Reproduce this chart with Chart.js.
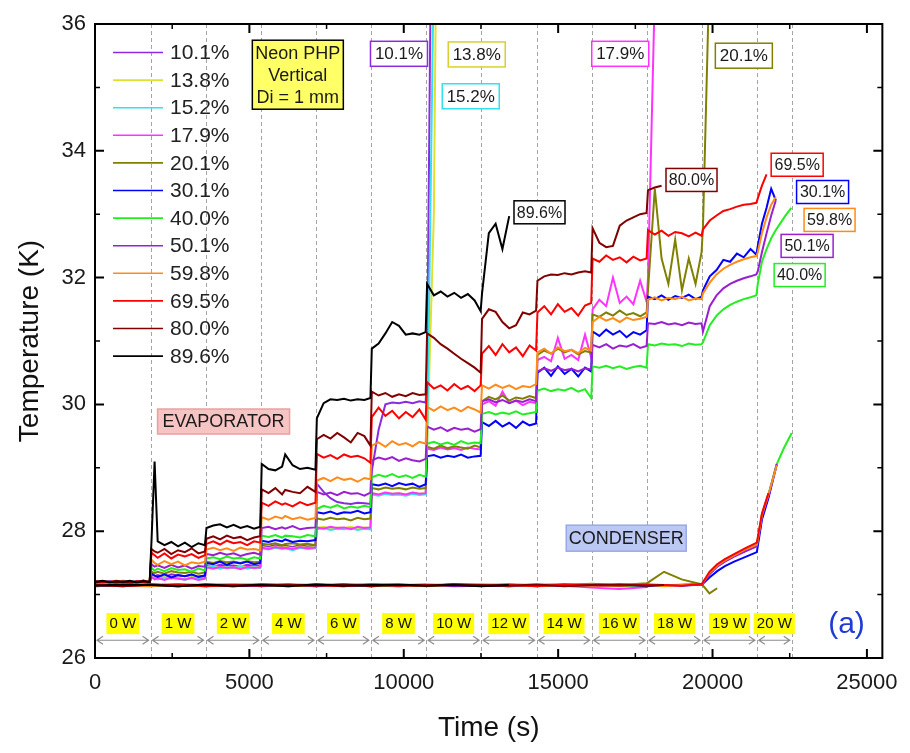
<!DOCTYPE html>
<html>
<head>
<meta charset="utf-8">
<title>Neon PHP - evaporator / condenser temperatures</title>
<script src="https://cdn.jsdelivr.net/npm/chart.js@4.4.0/dist/chart.umd.min.js"></script>
<style>
  html, body { margin: 0; padding: 0; background: #fff; }
  #php-chart-container { width: 910px; height: 753px; }
</style>
</head>
<body>
<div id="php-chart-container"><canvas id="php-chart" width="910" height="753"></canvas></div>
<script>
const _ = null; // no reading (run stopped or line off scale)

// fill ratios in legend order and their colours
const fillRatios = ['10.1%', '13.8%', '15.2%', '17.9%', '20.1%', '30.1%', '40.0%', '50.1%', '59.8%', '69.5%', '80.0%', '89.6%'];
const seriesColors = ['#8a2be2', '#e0e030', '#33e0ee', '#ff33ff', '#808000', '#0000ff', '#22ee22', '#9a1fd0', '#ff8c1a', '#ff0000', '#800000', '#000000'];

// heat load steps (s) and their labels
const stepBounds = [0, 1800, 3580, 5370, 7155, 8935, 10725, 12505, 14300, 16085, 17880, 19660, 21435, 22565];
const powerLabels = ['0 W', '1 W', '2 W', '4 W', '6 W', '8 W', '10 W', '12 W', '14 W', '16 W', '18 W', '19 W', '20 W'];

const xTickValues = [0, 5000, 10000, 15000, 20000, 25000];
const yTickValues = [26, 28, 30, 32, 34, 36];

// evaporator readings, one row per heat load step
const timeEvap = [
  0, 250, 470, 690, 910, 1130, 1350, 1570, 1770,
  1830, 1930, 2030, 2250, 2470, 2690, 2910, 3130, 3350, 3560,
  3610, 3830, 4050, 4270, 4490, 4710, 4930, 5150, 5350,
  5400, 5620, 5840, 6060, 6160, 6400, 6640, 6880, 7140,
  7185, 7405, 7625, 7845, 8065, 8285, 8505, 8725, 8920,
  8965, 9185, 9405, 9625, 9845, 10065, 10285, 10505, 10710,
  10755, 10975, 11195, 11415, 11635, 11855, 12075, 12295, 12490,
  12535, 12755, 12975, 13195, 13415, 13635, 13855, 14075, 14285,
  14330, 14550, 14770, 14990, 15210, 15430, 15650, 15870, 16070,
  16115, 16335, 16555, 16775, 16995, 17215, 17435, 17655, 17865,
  17910, 18130, 18350, 18570, 18790, 19010, 19230, 19450, 19645,
  19690, 19910, 20130, 20350, 20570, 20790, 21010, 21230, 21420,
  21465, 21600, 21750, 21900, 22050, 22200, 22350, 22550
];

const evap101 = [
  27.20, 27.21, 27.19, 27.20, 27.22, 27.20, 27.19, 27.21, 27.20,
  27.31, 27.29, 27.31, 27.28, 27.32, 27.30, 27.29, 27.31, 27.28, 27.30,
  27.46, 27.44, 27.47, 27.45, 27.46, 27.44, 27.47, 27.45, 27.46,
  27.77, 27.75, 27.78, 27.76, 27.77, 27.75, 27.78, 27.76, 27.77,
  28.75, 28.62, 28.52, 28.46, 28.44, 28.43, 28.45, 28.44, 28.43,
  28.95, 29.60, 30.00, 30.03, 30.02, 30.04, 30.02, 30.05, 30.03,
  30.60, 42.00, _, _, _, _, _, _, _,
  _, _, _, _, _, _, _, _, _,
  _, _, _, _, _, _, _, _, _,
  _, _, _, _, _, _, _, _, _,
  _, _, _, _, _, _, _, _, _,
  _, _, _, _, _, _, _, _, _,
  _, _, _, _, _, _, _, _
];
const evap138 = [
  27.21, 27.20, 27.19, 27.21, 27.20, 27.19, 27.21, 27.20, 27.19,
  27.29, 27.27, 27.25, 27.28, 27.26, 27.27, 27.24, 27.28, 27.26, 27.27,
  27.44, 27.45, 27.43, 27.44, 27.42, 27.45, 27.43, 27.44, 27.43,
  27.75, 27.73, 27.76, 27.74, 27.75, 27.73, 27.76, 27.74, 27.75,
  28.05, 28.07, 28.04, 28.06, 28.05, 28.07, 28.04, 28.06, 28.05,
  28.60, 28.58, 28.61, 28.59, 28.60, 28.58, 28.61, 28.59, 28.60,
  29.30, 33.00, 45.00, _, _, _, _, _, _,
  _, _, _, _, _, _, _, _, _,
  _, _, _, _, _, _, _, _, _,
  _, _, _, _, _, _, _, _, _,
  _, _, _, _, _, _, _, _, _,
  _, _, _, _, _, _, _, _, _,
  _, _, _, _, _, _, _, _
];
const evap152 = [
  27.19, 27.21, 27.20, 27.19, 27.21, 27.20, 27.19, 27.21, 27.20,
  27.27, 27.26, 27.24, 27.27, 27.25, 27.26, 27.23, 27.27, 27.25, 27.26,
  27.42, 27.44, 27.41, 27.43, 27.42, 27.44, 27.41, 27.43, 27.42,
  27.73, 27.71, 27.74, 27.72, 27.73, 27.70, 27.74, 27.72, 27.73,
  28.03, 28.05, 28.02, 28.04, 28.03, 28.05, 28.02, 28.04, 28.03,
  28.58, 28.56, 28.59, 28.57, 28.58, 28.56, 28.59, 28.57, 28.58,
  29.30, 37.00, _, _, _, _, _, _, _,
  _, _, _, _, _, _, _, _, _,
  _, _, _, _, _, _, _, _, _,
  _, _, _, _, _, _, _, _, _,
  _, _, _, _, _, _, _, _, _,
  _, _, _, _, _, _, _, _, _,
  _, _, _, _, _, _, _, _
];
const evap179 = [
  27.20, 27.19, 27.21, 27.20, 27.19, 27.21, 27.20, 27.22, 27.20,
  27.28, 27.24, 27.26, 27.23, 27.27, 27.25, 27.24, 27.26, 27.23, 27.25,
  27.43, 27.41, 27.44, 27.42, 27.43, 27.40, 27.44, 27.42, 27.43,
  27.74, 27.72, 27.75, 27.73, 27.74, 27.72, 27.75, 27.73, 27.74,
  28.06, 28.04, 28.07, 28.05, 28.06, 28.03, 28.07, 28.05, 28.06,
  28.60, 28.58, 28.61, 28.59, 28.60, 28.58, 28.61, 28.59, 28.60,
  29.30, 29.28, 29.32, 29.29, 29.31, 29.28, 29.32, 29.30, 29.29,
  30.00, 30.05, 29.98, 30.20, 30.02, 30.06, 29.99, 30.04, 30.02,
  30.70, 30.75, 30.68, 31.05, 30.72, 30.78, 30.70, 31.10, 30.74,
  31.50, 31.65, 31.55, 32.00, 31.60, 31.70, 31.58, 31.95, 31.62,
  32.00, 36.50, _, _, _, _, _, _, _,
  _, _, _, _, _, _, _, _, _,
  _, _, _, _, _, _, _, _
];
const evap201 = [
  27.21, 27.20, 27.19, 27.20, 27.21, 27.19, 27.20, 27.21, 27.19,
  27.36, 27.34, 27.36, 27.33, 27.37, 27.35, 27.34, 27.36, 27.33, 27.35,
  27.52, 27.50, 27.53, 27.51, 27.52, 27.50, 27.53, 27.51, 27.52,
  27.80, 27.79, 27.81, 27.78, 27.80, 27.81, 27.79, 27.80, 27.78,
  28.20, 28.18, 28.21, 28.19, 28.20, 28.17, 28.21, 28.19, 28.20,
  28.68, 28.66, 28.69, 28.67, 28.68, 28.66, 28.69, 28.67, 28.68,
  29.33, 29.30, 29.35, 29.31, 29.34, 29.32, 29.30, 29.35, 29.32,
  30.05, 30.12, 30.08, 30.14, 30.06, 30.11, 30.09, 30.13, 30.10,
  30.78, 30.85, 30.80, 30.88, 30.82, 30.86, 30.79, 30.84, 30.82,
  31.42, 31.38, 31.45, 31.40, 31.48, 31.41, 31.44, 31.39, 31.45,
  31.80, 33.40, 32.30, 31.90, 32.60, 31.80, 32.30, 31.90, 32.40,
  32.80, 37.00, _, _, _, _, _, _, _,
  _, _, _, _, _, _, _, _
];
const evap301 = [
  27.21, 27.20, 27.19, 27.21, 27.20, 27.19, 27.21, 27.20, 27.19,
  27.33, 27.30, 27.28, 27.32, 27.27, 27.31, 27.29, 27.32, 27.28, 27.30,
  27.50, 27.48, 27.52, 27.47, 27.51, 27.49, 27.52, 27.48, 27.50,
  27.85, 27.83, 27.86, 27.84, 27.87, 27.83, 27.85, 27.84, 27.86,
  28.30, 28.28, 28.31, 28.27, 28.30, 28.29, 28.32, 28.28, 28.30,
  28.74, 28.72, 28.75, 28.71, 28.76, 28.73, 28.75, 28.70, 28.74,
  29.18, 29.20, 29.16, 29.19, 29.17, 29.21, 29.16, 29.18, 29.19,
  29.72, 29.66, 29.74, 29.65, 29.71, 29.63, 29.73, 29.67, 29.70,
  30.50, 30.58, 30.45, 30.60, 30.48, 30.56, 30.44, 30.58, 30.52,
  31.15, 31.08, 31.18, 31.10, 31.16, 31.06, 31.14, 31.10, 31.17,
  31.70, 31.66, 31.72, 31.65, 31.71, 31.68, 31.73, 31.66, 31.70,
  31.80, 32.02, 32.12, 32.28, 32.25, 32.38, 32.32, 32.45, 32.36,
  32.50, 32.85, 33.10, 33.40, 33.22, _, _, _
];
const evap400 = [
  27.20, 27.19, 27.21, 27.20, 27.19, 27.21, 27.20, 27.19, 27.21,
  27.42, 27.38, 27.41, 27.37, 27.42, 27.39, 27.40, 27.36, 27.41, 27.38,
  27.57, 27.59, 27.56, 27.60, 27.57, 27.58, 27.55, 27.59, 27.57,
  27.93, 27.91, 27.94, 27.90, 27.93, 27.92, 27.90, 27.94, 27.92,
  28.35, 28.40, 28.37, 28.41, 28.36, 28.39, 28.37, 28.40, 28.38,
  28.85, 28.89, 28.86, 28.90, 28.85, 28.88, 28.84, 28.89, 28.86,
  29.38, 29.41, 29.37, 29.40, 29.36, 29.42, 29.38, 29.40, 29.39,
  29.85, 29.88, 29.84, 29.87, 29.85, 29.89, 29.84, 29.86, 29.88,
  30.22, 30.25, 30.21, 30.24, 30.22, 30.26, 30.20, 30.24, 30.10,
  30.60, 30.58, 30.61, 30.57, 30.60, 30.56, 30.59, 30.61, 30.58,
  30.95, 30.93, 30.96, 30.94, 30.95, 30.92, 30.96, 30.94, 30.95,
  30.98, 31.25, 31.40, 31.50, 31.57, 31.62, 31.66, 31.69, 31.72,
  31.90, 32.25, 32.45, 32.62, 32.75, 32.86, 32.97, 33.10
];
const evap501 = [
  27.19, 27.20, 27.21, 27.19, 27.20, 27.21, 27.19, 27.20, 27.21,
  27.48, 27.44, 27.46, 27.42, 27.47, 27.43, 27.46, 27.41, 27.45, 27.44,
  27.64, 27.62, 27.66, 27.63, 27.65, 27.61, 27.64, 27.66, 27.63,
  28.05, 28.07, 28.03, 28.06, 28.04, 28.08, 28.03, 28.05, 28.06,
  28.62, 28.58, 28.61, 28.57, 28.62, 28.59, 28.60, 28.56, 28.61,
  29.12, 29.16, 29.13, 29.17, 29.11, 29.15, 29.12, 29.10, 29.14,
  29.65, 29.60, 29.64, 29.58, 29.63, 29.60, 29.62, 29.57, 29.61,
  30.05, 30.08, 30.03, 30.07, 30.02, 30.06, 30.04, 30.08, 30.05,
  30.52, 30.57, 30.53, 30.58, 30.54, 30.56, 30.52, 30.57, 30.55,
  30.94, 30.90, 30.95, 30.88, 30.93, 30.91, 30.95, 30.89, 30.92,
  31.28, 31.27, 31.30, 31.26, 31.28, 31.25, 31.29, 31.27, 31.28,
  31.15, 31.55, 31.72, 31.83, 31.90, 31.95, 31.99, 32.02, 32.05,
  32.10, 32.40, 32.70, 32.98, 33.22, _, _, _
];
const evap598 = [
  27.20, 27.21, 27.19, 27.20, 27.21, 27.19, 27.20, 27.21, 27.20,
  27.55, 27.50, 27.47, 27.53, 27.48, 27.52, 27.46, 27.51, 27.49, 27.52,
  27.71, 27.74, 27.70, 27.73, 27.69, 27.74, 27.71, 27.72, 27.70,
  28.22, 28.18, 28.23, 28.20, 28.24, 28.19, 28.22, 28.18, 28.21,
  28.80, 28.84, 28.79, 28.85, 28.81, 28.83, 28.78, 28.84, 28.82,
  29.35, 29.40, 29.33, 29.42, 29.36, 29.39, 29.34, 29.41, 29.38,
  29.96, 29.90, 29.97, 29.91, 29.95, 29.89, 29.96, 29.92, 29.87,
  30.30, 30.25, 30.31, 30.26, 30.30, 30.24, 30.29, 30.27, 30.32,
  30.82, 30.88, 30.80, 30.90, 30.84, 30.86, 30.81, 30.89, 30.85,
  31.30, 31.38, 31.32, 31.36, 31.30, 31.37, 31.33, 31.35, 31.38,
  31.65, 31.69, 31.64, 31.68, 31.66, 31.70, 31.64, 31.67, 31.66,
  31.75, 31.92, 32.05, 32.14, 32.20, 32.25, 32.29, 32.32, 32.34,
  32.40, 32.70, 32.95, 33.15, 33.27, _, _, _
];
const evap695 = [
  27.21, 27.19, 27.20, 27.22, 27.20, 27.18, 27.21, 27.20, 27.19,
  27.66, 27.62, 27.58, 27.65, 27.57, 27.63, 27.60, 27.64, 27.58, 27.62,
  27.80, 27.84, 27.79, 27.85, 27.81, 27.83, 27.78, 27.84, 27.82,
  28.45, 28.40, 28.47, 28.42, 28.44, 28.39, 28.46, 28.41, 28.45,
  29.22, 29.16, 29.20, 29.14, 29.21, 29.17, 29.19, 29.15, 29.08,
  29.80, 29.95, 29.82, 29.90, 29.78, 29.88, 29.80, 29.92, 29.76,
  30.35, 30.25, 30.30, 30.22, 30.32, 30.24, 30.29, 30.21, 30.30,
  30.80, 30.92, 30.78, 30.95, 30.82, 30.90, 30.76, 30.93, 30.85,
  31.45, 31.55, 31.42, 31.58, 31.46, 31.52, 31.40, 31.56, 31.60,
  32.30, 32.25, 32.35, 32.28, 32.32, 32.24, 32.33, 32.27, 32.30,
  32.75, 32.68, 32.74, 32.66, 32.72, 32.70, 32.65, 32.71, 32.66,
  32.76, 32.90, 32.98, 33.05, 33.08, 33.12, 33.15, 33.16, 33.18,
  33.25, 33.45, 33.63, _, _, _, _, _
];
const evap800 = [
  27.19, 27.21, 27.20, 27.18, 27.21, 27.19, 27.20, 27.22, 27.19,
  27.72, 27.68, 27.66, 27.72, 27.64, 27.70, 27.67, 27.73, 27.65, 27.68,
  27.88, 27.92, 27.87, 27.93, 27.89, 27.91, 27.86, 27.90, 27.92,
  28.66, 28.60, 28.68, 28.58, 28.65, 28.62, 28.60, 28.70, 28.62,
  29.45, 29.52, 29.46, 29.55, 29.48, 29.40, 29.55, 29.50, 29.35,
  30.20, 30.14, 30.18, 30.12, 30.16, 30.13, 30.18, 30.15, 30.16,
  31.12, 31.05, 30.95, 30.88, 30.80, 30.72, 30.65, 30.58, 30.50,
  31.35, 31.50, 31.46, 31.30, 31.20, 31.25, 31.45, 31.42, 31.48,
  31.95, 32.02, 32.05, 32.04, 32.07, 32.05, 32.08, 32.10, 32.08,
  32.78, 32.55, 32.48, 32.50, 32.82, 32.90, 32.95, 33.00, 33.02,
  33.38, 33.42, 33.45, _, _, _, _, _, _,
  _, _, _, _, _, _, _, _, _,
  _, _, _, _, _, _, _, _
];
const evap896 = [
  27.20, 27.22, 27.19, 27.21, 27.20, 27.22, 27.19, 27.21, 27.20,
  27.85, 29.10, 27.84, 27.78, 27.83, 27.76, 27.82, 27.75, 27.81, 27.78,
  28.05, 28.09, 28.11, 28.06, 28.10, 28.05, 28.08, 28.04, 28.07,
  29.06, 28.98, 28.96, 29.02, 29.21, 29.04, 28.98, 29.00, 28.97,
  29.78, 30.02, 30.08, 30.07, 30.09, 30.06, 30.08, 30.07, 30.10,
  30.88, 30.96, 31.12, 31.30, 31.24, 31.10, 31.12, 31.10, 31.14,
  31.90, 31.72, 31.78, 31.70, 31.76, 31.68, 31.74, 31.64, 31.47,
  31.75, 32.70, 32.85, 32.45, 32.97, _, _, _, _,
  _, _, _, _, _, _, _, _, _,
  _, _, _, _, _, _, _, _, _,
  _, _, _, _, _, _, _, _, _,
  _, _, _, _, _, _, _, _, _,
  _, _, _, _, _, _, _, _
];

// condenser readings
const timeCond = [
  0, 900, 1800, 2690, 3580, 4475, 5370, 6260, 7155, 8045, 8935, 9830,
  10725, 11615, 12505, 13400, 14300, 15190, 16085, 16980, 17880, 18430, 19000, 19660,
  19900, 20150, 20400, 20700, 21050, 21435,
  21600, 21810, 22080, 22320, 22565
];
const cond101 = [
  27.15, 27.13, 27.16, 27.14, 27.15, 27.16, 27.13, 27.15, 27.14, 27.16, 27.15, 27.13,
  27.15, _, _, _, _, _, _, _, _, _, _, _,
  _, _, _, _, _, _,
  _, _, _, _, _
];
const cond138 = [
  27.14, 27.16, 27.15, 27.13, 27.16, 27.14, 27.15, 27.16, 27.13, 27.15, 27.14, 27.16,
  27.14, _, _, _, _, _, _, _, _, _, _, _,
  _, _, _, _, _, _,
  _, _, _, _, _
];
const cond152 = [
  27.16, 27.14, 27.13, 27.15, 27.14, 27.16, 27.15, 27.13, 27.16, 27.14, 27.15, 27.14,
  27.16, _, _, _, _, _, _, _, _, _, _, _,
  _, _, _, _, _, _,
  _, _, _, _, _
];
const cond179 = [
  27.15, 27.14, 27.16, 27.15, 27.13, 27.15, 27.16, 27.14, 27.15, 27.13, 27.16, 27.15,
  27.14, 27.16, 27.15, 27.13, 27.15, 27.14, 27.11, 27.09, 27.12, _, _, _,
  _, _, _, _, _, _,
  _, _, _, _, _
];
const cond201 = [
  27.14, 27.15, 27.16, 27.13, 27.15, 27.14, 27.16, 27.15, 27.13, 27.16, 27.14, 27.15,
  27.16, 27.14, 27.15, 27.16, 27.13, 27.15, 27.17, 27.15, 27.18, 27.36, 27.24, 27.16,
  27.02, 27.10, _, _, _, _,
  _, _, _, _, _
];
const cond301 = [
  27.13, 27.15, 27.14, 27.16, 27.15, 27.13, 27.15, 27.14, 27.16, 27.15, 27.13, 27.15,
  27.14, 27.16, 27.15, 27.13, 27.15, 27.16, 27.14, 27.15, 27.13, 27.15, 27.14, 27.16,
  27.27, 27.37, 27.45, 27.52, 27.59, 27.67,
  28.18, 28.52, 29.05, _, _
];
const cond400 = [
  27.15, 27.16, 27.14, 27.15, 27.13, 27.16, 27.15, 27.14, 27.15, 27.16, 27.14, 27.13,
  27.15, 27.14, 27.16, 27.15, 27.14, 27.15, 27.16, 27.13, 27.15, 27.14, 27.16, 27.17,
  27.33, 27.45, 27.53, 27.61, 27.69, 27.78,
  28.26, 28.58, 29.06, 29.32, 29.55
];
const cond501 = [
  27.16, 27.14, 27.15, 27.13, 27.16, 27.15, 27.14, 27.16, 27.13, 27.15, 27.16, 27.14,
  27.15, 27.13, 27.14, 27.16, 27.15, 27.14, 27.13, 27.16, 27.15, 27.14, 27.15, 27.16,
  27.32, 27.44, 27.52, 27.60, 27.68, 27.76,
  28.24, 28.56, 29.06, _, _
];
const cond598 = [
  27.14, 27.15, 27.13, 27.16, 27.14, 27.15, 27.16, 27.13, 27.15, 27.14, 27.16, 27.15,
  27.13, 27.15, 27.16, 27.14, 27.16, 27.15, 27.14, 27.15, 27.16, 27.13, 27.15, 27.17,
  27.34, 27.46, 27.54, 27.62, 27.71, 27.79,
  28.26, 28.58, 29.04, _, _
];
const cond695 = [
  27.16, 27.14, 27.15, 27.16, 27.13, 27.15, 27.14, 27.16, 27.15, 27.13, 27.16, 27.14,
  27.15, 27.16, 27.14, 27.15, 27.13, 27.16, 27.15, 27.14, 27.16, 27.15, 27.14, 27.17,
  27.36, 27.48, 27.56, 27.64, 27.73, 27.82,
  28.28, 28.60, _, _, _
];
const cond800 = [
  27.15, 27.13, 27.16, 27.14, 27.15, 27.13, 27.16, 27.15, 27.14, 27.16, 27.13, 27.15,
  27.14, 27.16, 27.15, 27.14, 27.16, 27.13, 27.15, 27.16, 27.14, 27.15, _, _,
  _, _, _, _, _, _,
  _, _, _, _, _
];
const cond896 = [
  27.14, 27.16, 27.15, 27.13, 27.16, 27.14, 27.15, 27.13, 27.16, 27.14, 27.15, 27.16,
  27.14, 27.15, 27.13, 27.15, _, _, _, _, _, _, _, _,
  _, _, _, _, _, _,
  _, _, _, _, _
];

const evapSeries = [evap101, evap138, evap152, evap179, evap201, evap301, evap400, evap501, evap598, evap695, evap800, evap896];
const condSeries = [cond101, cond138, cond152, cond179, cond201, cond301, cond400, cond501, cond598, cond695, cond800, cond896];

evapSeries.forEach((s, i) => { if (s.length !== timeEvap.length) throw new Error('evap series ' + fillRatios[i] + ' has ' + s.length + ' values'); });
condSeries.forEach((s, i) => { if (s.length !== timeCond.length) throw new Error('cond series ' + fillRatios[i] + ' has ' + s.length + ' values'); });

const FONT = '"Liberation Sans", Arial, sans-serif';

// text boxes placed in data units (time, temperature)
const notes = [
  { lines: ['Neon PHP', 'Vertical', 'Di = 1 mm'], t: 6569, T: 35.20, w: 91, h: 69, fill: '#ffff66', stroke: '#000000', size: 18 },
  { lines: ['10.1%'], t: 9845, T: 35.53, w: 57, h: 25, fill: '#fff', stroke: seriesColors[0], size: 17 },
  { lines: ['13.8%'], t: 12363, T: 35.52, w: 57, h: 25, fill: '#fff', stroke: '#d8d030', size: 17 },
  { lines: ['15.2%'], t: 12169, T: 34.86, w: 57, h: 25, fill: '#fff', stroke: seriesColors[2], size: 17 },
  { lines: ['17.9%'], t: 17011, T: 35.53, w: 57, h: 25, fill: '#fff', stroke: seriesColors[3], size: 17 },
  { lines: ['20.1%'], t: 21014, T: 35.50, w: 57, h: 25, fill: '#fff', stroke: seriesColors[4], size: 17 },
  { lines: ['80.0%'], t: 19319, T: 33.54, w: 51, h: 23, fill: '#fff', stroke: seriesColors[10], size: 16 },
  { lines: ['89.6%'], t: 14396, T: 33.03, w: 51, h: 23, fill: '#fff', stroke: seriesColors[11], size: 16 },
  { lines: ['69.5%'], t: 22741, T: 33.78, w: 52, h: 23, fill: '#fff', stroke: seriesColors[9], size: 16 },
  { lines: ['30.1%'], t: 23564, T: 33.35, w: 52, h: 23, fill: '#fff', stroke: seriesColors[5], size: 16 },
  { lines: ['59.8%'], t: 23790, T: 32.91, w: 51, h: 23, fill: '#fff', stroke: seriesColors[8], size: 16 },
  { lines: ['50.1%'], t: 23063, T: 32.50, w: 52, h: 23, fill: '#fff', stroke: seriesColors[7], size: 16 },
  { lines: ['40.0%'], t: 22821, T: 32.04, w: 51, h: 23, fill: '#fff', stroke: seriesColors[6], size: 16 },
  { lines: ['EVAPORATOR'], t: 4164, T: 29.73, w: 132, h: 25, fill: '#f7c4c4', stroke: '#eaa0a0', size: 18 },
  { lines: ['CONDENSER'], t: 17205, T: 27.89, w: 120, h: 26, fill: '#bcc8f4', stroke: '#9aa8e6', size: 18 }
];

function drawNote(ctx, n, cx, cy) {
  ctx.fillStyle = n.fill;
  ctx.fillRect(cx - n.w / 2, cy - n.h / 2, n.w, n.h);
  ctx.strokeStyle = n.stroke;
  ctx.lineWidth = 1.5;
  ctx.strokeRect(cx - n.w / 2, cy - n.h / 2, n.w, n.h);
  ctx.fillStyle = '#1a1a1a';
  ctx.font = n.size + 'px ' + FONT;
  ctx.textAlign = 'center';
  ctx.textBaseline = 'middle';
  const lh = n.lines.length > 1 ? 22 : 0;
  n.lines.forEach((line, k) => {
    ctx.fillText(line, cx, cy + (k - (n.lines.length - 1) / 2) * lh + 1);
  });
}

const decorations = {
  id: 'decorations',
  beforeDatasetsDraw(chart) {
    const { ctx, chartArea: a, scales: { x } } = chart;
    ctx.save();
    ctx.strokeStyle = '#a4a4a4';
    ctx.lineWidth = 1;
    ctx.setLineDash([4, 3]);
    stepBounds.slice(1).forEach(b => {
      const px = Math.round(x.getPixelForValue(b)) + 0.5;
      ctx.beginPath();
      ctx.moveTo(px, a.top);
      ctx.lineTo(px, a.bottom);
      ctx.stroke();
    });
    ctx.restore();
  },
  afterDatasetsDraw(chart) {
    const { ctx, chartArea: a, scales: { x, y } } = chart;
    ctx.save();

    // heat load labels with double arrows under the curves
    const ya = y.getPixelForValue(26.28);
    const yl = y.getPixelForValue(26.55);
    powerLabels.forEach((lab, i) => {
      const x0 = x.getPixelForValue(stepBounds[i]) + 2;
      const x1 = x.getPixelForValue(stepBounds[i + 1]) - 2;
      ctx.strokeStyle = '#8c8c8c';
      ctx.lineWidth = 1.2;
      ctx.beginPath();
      ctx.moveTo(x0, ya); ctx.lineTo(x1, ya);
      ctx.moveTo(x0 + 6, ya - 4); ctx.lineTo(x0, ya); ctx.lineTo(x0 + 6, ya + 4);
      ctx.moveTo(x1 - 6, ya - 4); ctx.lineTo(x1, ya); ctx.lineTo(x1 - 6, ya + 4);
      ctx.stroke();

      ctx.font = '15px ' + FONT;
      const w = ctx.measureText(lab).width + 6;
      const cx = (x0 + x1) / 2;
      ctx.fillStyle = '#ffff00';
      ctx.fillRect(cx - w / 2, yl - 10, w, 21);
      ctx.fillStyle = '#111';
      ctx.textAlign = 'center';
      ctx.textBaseline = 'middle';
      ctx.fillText(lab, cx, yl + 1);
    });

    // frame with inward ticks on all four sides
    ctx.strokeStyle = '#000';
    ctx.lineWidth = 2;
    ctx.strokeRect(a.left, a.top, a.right - a.left, a.bottom - a.top);
    ctx.beginPath();
    xTickValues.forEach(v => {
      const px = x.getPixelForValue(v);
      ctx.moveTo(px, a.bottom); ctx.lineTo(px, a.bottom - 9);
      ctx.moveTo(px, a.top); ctx.lineTo(px, a.top + 9);
    });
    yTickValues.forEach(v => {
      const py = y.getPixelForValue(v);
      ctx.moveTo(a.left, py); ctx.lineTo(a.left + 9, py);
      ctx.moveTo(a.right, py); ctx.lineTo(a.right - 9, py);
    });
    ctx.stroke();
    ctx.lineWidth = 1.5;
    ctx.beginPath();
    xTickValues.slice(0, -1).forEach(v => {
      const px = x.getPixelForValue(v + 2500);
      ctx.moveTo(px, a.bottom); ctx.lineTo(px, a.bottom - 5);
      ctx.moveTo(px, a.top); ctx.lineTo(px, a.top + 5);
    });
    yTickValues.slice(0, -1).forEach(v => {
      const py = y.getPixelForValue(v + 1);
      ctx.moveTo(a.left, py); ctx.lineTo(a.left + 5, py);
      ctx.moveTo(a.right, py); ctx.lineTo(a.right - 5, py);
    });
    ctx.stroke();

    // legend (evaporator curves only)
    ctx.font = '21px ' + FONT;
    ctx.textAlign = 'left';
    ctx.textBaseline = 'middle';
    fillRatios.forEach((label, i) => {
      const ly = a.top + 28.5 + i * 27.6;
      ctx.strokeStyle = seriesColors[i];
      ctx.lineWidth = 1.6;
      ctx.beginPath();
      ctx.moveTo(a.left + 18, ly); ctx.lineTo(a.left + 68, ly);
      ctx.stroke();
      ctx.fillStyle = '#222';
      ctx.fillText(label, a.left + 75, ly + 1);
    });

    notes.forEach(n => drawNote(ctx, n, x.getPixelForValue(n.t), y.getPixelForValue(n.T)));

    ctx.fillStyle = '#1f3ad6';
    ctx.font = '30px ' + FONT;
    ctx.textAlign = 'center';
    ctx.textBaseline = 'middle';
    ctx.fillText('(a)', x.getPixelForValue(24338), y.getPixelForValue(26.52));

    ctx.restore();
  }
};

const toPoints = (times, vals) => times.map((t, i) => ({ x: t, y: vals[i] }));

const datasets = [];
evapSeries.forEach((vals, i) => {
  datasets.push({
    label: fillRatios[i] + ' evaporator',
    data: toPoints(timeEvap, vals),
    borderColor: seriesColors[i],
    borderWidth: 2,
    pointRadius: 0,
    fill: false,
    spanGaps: false,
    order: 24 - i
  });
});
condSeries.forEach((vals, i) => {
  datasets.push({
    label: fillRatios[i] + ' condenser',
    data: toPoints(timeCond, vals),
    borderColor: seriesColors[i],
    borderWidth: 2,
    pointRadius: 0,
    fill: false,
    spanGaps: false,
    order: 12 - i
  });
});

new Chart(document.getElementById('php-chart'), {
  type: 'line',
  data: { datasets },
  options: {
    responsive: false,
    animation: false,
    devicePixelRatio: 1,
    layout: { padding: { top: 24, right: 25, left: 0, bottom: 0 } },
    plugins: { legend: { display: false }, tooltip: { enabled: false } },
    elements: { line: { tension: 0 } },
    scales: {
      x: {
        type: 'linear',
        min: 0,
        max: 25500,
        afterFit: s => { s.height = 95; },
        afterBuildTicks: s => { s.ticks = xTickValues.map(v => ({ value: v })); },
        grid: { display: false, drawTicks: false },
        border: { display: false },
        ticks: { color: '#1a1a1a', font: { family: FONT, size: 22 }, padding: 12, maxRotation: 0, callback: v => String(v) },
        title: { display: true, text: 'Time (s)', color: '#111', font: { family: FONT, size: 28 }, padding: { bottom: 8 } }
      },
      y: {
        type: 'linear',
        min: 26,
        max: 36,
        afterFit: s => { s.width = 95; },
        afterBuildTicks: s => { s.ticks = yTickValues.map(v => ({ value: v })); },
        grid: { display: false, drawTicks: false },
        border: { display: false },
        ticks: { color: '#1a1a1a', font: { family: FONT, size: 22 }, padding: 9, callback: v => String(v) },
        title: { display: true, text: 'Temperature (K)', color: '#111', font: { family: FONT, size: 28 }, padding: { top: 13 } }
      }
    }
  },
  plugins: [decorations]
});
</script>
</body>
</html>
